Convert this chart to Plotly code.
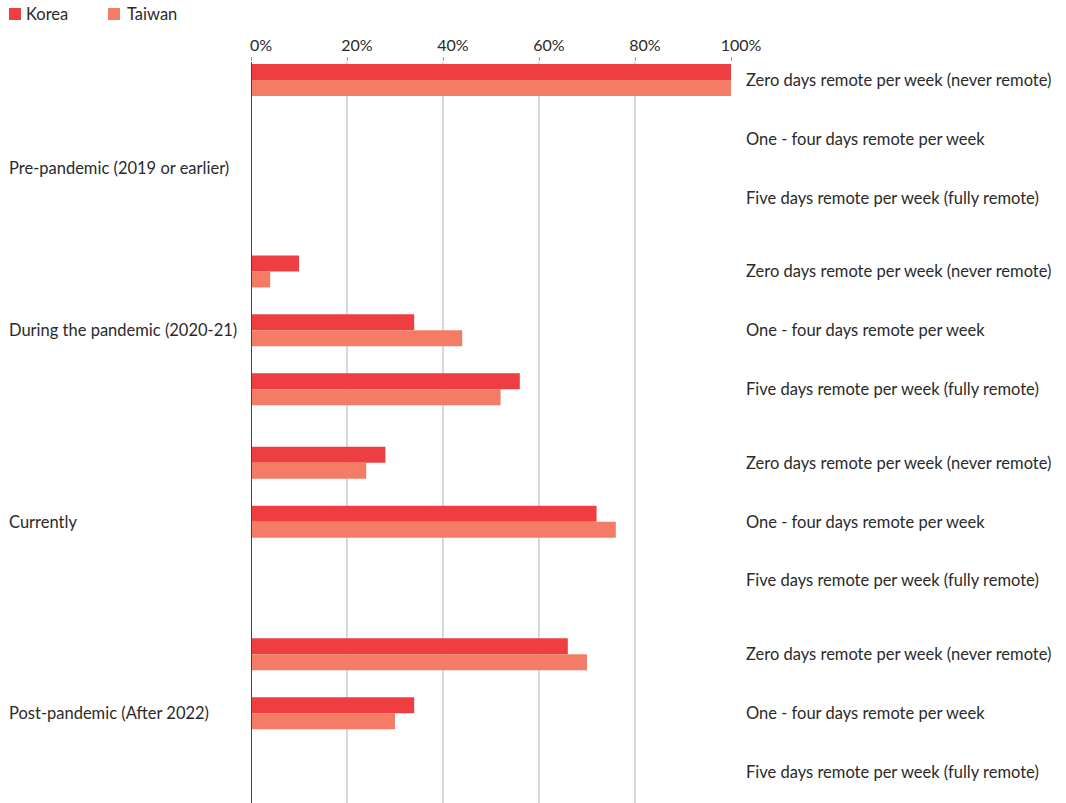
import plotly.graph_objects as go

groups = ["Pre-pandemic (2019 or earlier)", "During the pandemic (2020-21)", "Currently", "Post-pandemic (After 2022)"]
categories = ["Zero days remote per week (never remote)", "One - four days remote per week", "Five days remote per week (fully remote)"]
korea = [[100, 0, 0], [10, 34, 56], [28, 72, 0], [66, 34, 0]]
taiwan = [[100, 0, 0], [4, 44, 52], [24, 76, 0], [70, 30, 0]]
group_label_offset = [1.5, 1, 1, 1]

KOREA_C = "#ee3e42"
TAIWAN_C = "#f47c66"
TEXT_C = "#2a2a2a"
FONT = "Lato"

GROUP_STEP = 3.25
ypos, ylab, kx, tx = [], [], [], []
for gi, g in enumerate(groups):
    for ri, c in enumerate(categories):
        ypos.append(gi * GROUP_STEP + ri)
        ylab.append(c)
        kx.append(korea[gi][ri])
        tx.append(taiwan[gi][ri])

W, H = 1066, 803
ML, MR, MT, MB = 251, 335, 62, 0
PW, PH = W - ML - MR, H - MT - MB
ROW_PX = 58.9
ROW0_PX = 80
y_top = (MT - ROW0_PX) / ROW_PX
y_bot = (H - ROW0_PX) / ROW_PX

fig = go.Figure()
fig.add_trace(go.Bar(y=ypos, x=kx, orientation="h", name="Korea", marker=dict(color=KOREA_C, line=dict(width=0))))
fig.add_trace(go.Bar(y=ypos, x=tx, orientation="h", name="Taiwan", marker=dict(color=TAIWAN_C, line=dict(width=0))))

def px2paper_x(px):
    return (px - ML) / PW

def px2paper_y(py):
    return (H - MB - py) / PH

shapes = [
    dict(type="line", xref="x", yref="paper", x0=0, x1=0, y0=0, y1=1, line=dict(color="#444444", width=2), layer="above"),
]
annotations = []
# manual legend
for name, col, sx, tx_ in [("Korea", KOREA_C, 9, 26), ("Taiwan", TAIWAN_C, 108, 127)]:
    shapes.append(dict(type="rect", xref="paper", yref="paper", x0=px2paper_x(sx), x1=px2paper_x(sx + 12),
                       y0=px2paper_y(20), y1=px2paper_y(8), fillcolor=col, line=dict(width=0)))
    annotations.append(dict(xref="paper", yref="paper", x=px2paper_x(tx_), y=px2paper_y(14), text=name,
                            showarrow=False, xanchor="left", yanchor="middle", xshift=-2,
                            font=dict(family=FONT, size=16.5, color=TEXT_C)))
# group labels
for gi, g in enumerate(groups):
    annotations.append(dict(xref="paper", yref="y", x=px2paper_x(9), y=gi * GROUP_STEP + group_label_offset[gi], text=g,
                            showarrow=False, xanchor="left", yanchor="middle", xshift=-2,
                            font=dict(family=FONT, size=16.5, color=TEXT_C)))

fig.update_layout(
    width=W, height=H,
    margin=dict(l=ML, r=MR, t=MT, b=MB),
    paper_bgcolor="white", plot_bgcolor="white",
    barmode="group", bargap=0.456, bargroupgap=0,
    showlegend=False,
    font=dict(family=FONT, size=16, color=TEXT_C),
    xaxis=dict(side="top", range=[0, 100], dtick=20, ticksuffix="%", showgrid=True, gridcolor="#d3dadf", gridwidth=1.5,
               zeroline=False, ticks="outside", ticklen=4, tickcolor="#999999", tickwidth=1,
               ticklabelshift=10,
               tickfont=dict(family=FONT, size=16, color=TEXT_C), fixedrange=True),
    yaxis=dict(side="right", range=[y_bot, y_top], tickmode="array", tickvals=ypos, ticktext=ylab,
               showgrid=False, zeroline=False, ticks="", showline=False, ticklabelstandoff=14,
               tickfont=dict(family=FONT, size=16.5, color=TEXT_C), fixedrange=True),
    shapes=shapes, annotations=annotations,
)

fig.write_html("out.html")
